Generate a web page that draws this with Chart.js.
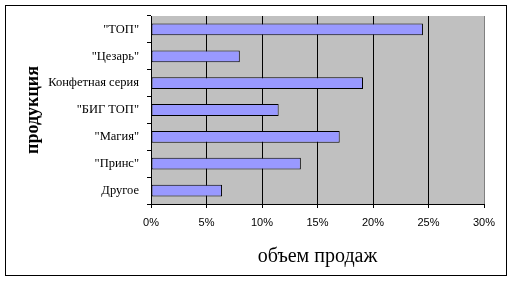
<!DOCTYPE html>
<html>
<head>
<meta charset="utf-8">
<script src="https://cdn.jsdelivr.net/npm/chart.js@4.4.0/dist/chart.umd.min.js"></script>
<style>
  body { margin: 0; background: #fff; }
  canvas { display: block; }
</style>
</head>
<body>
<canvas id="salesChart" width="513" height="282"></canvas>
<script>
const products = ['"ТОП"', '"Цезарь"', 'Конфетная серия', '"БИГ ТОП"', '"Магия"', '"Принс"', 'Другое'];
const salesShare = [24.5, 8, 19.1, 11.5, 17, 13.5, 6.4];
const percentTicks = [0, 5, 10, 15, 20, 25, 30];

// grey plot area + outer frame
const framePlugin = {
    id: 'frame',
    beforeDraw(chart) {
        const { ctx, chartArea } = chart;
        ctx.save();
        ctx.fillStyle = '#c0c0c0';
        ctx.fillRect(chartArea.left, chartArea.top, chartArea.right - chartArea.left, chartArea.bottom - chartArea.top);
        ctx.restore();
    },
    afterDraw(chart) {
        const ctx = chart.ctx;
        ctx.save();
        ctx.strokeStyle = '#000';
        ctx.lineWidth = 1;
        ctx.strokeRect(5.5, 5.5, 501, 270);
        ctx.restore();
    }
};

const ctx = document.getElementById('salesChart').getContext('2d');
new Chart(ctx, {
    type: 'bar',
    data: {
        labels: products,
        datasets: [{
            label: 'объем продаж',
            data: salesShare,
            backgroundColor: '#9999ff',
            borderColor: '#000',
            borderWidth: 1,
            borderSkipped: false,
            barPercentage: 0.44,
            categoryPercentage: 1
        }]
    },
    options: {
        indexAxis: 'y',
        responsive: false,
        animation: false,
        devicePixelRatio: 1,
        layout: {
            padding: { left: 23, top: 16, right: 29, bottom: 0 }
        },
        scales: {
            x: {
                min: 0,
                max: 30,
                afterBuildTicks: (scale) => {
                    scale.ticks = percentTicks.map(v => ({ value: v }));
                },
                afterFit: (scale) => { scale.height = 78; },
                ticks: {
                    color: '#000',
                    padding: 8,
                    maxRotation: 0,
                    font: { family: 'Liberation Sans', size: 11 },
                    callback: (v) => v + '%'
                },
                grid: {
                    color: (c) => (c.tick && c.tick.value === 30) ? '#808080' : '#000',
                    tickColor: '#000',
                    tickLength: 4,
                    lineWidth: 1
                },
                border: { color: '#000' },
                title: {
                    display: true,
                    text: 'объем продаж',
                    color: '#000',
                    padding: { top: 0, bottom: 13 },
                    font: { family: 'Liberation Serif', size: 20 }
                }
            },
            y: {
                afterFit: (scale) => { scale.width = 128; },
                ticks: {
                    color: '#000',
                    padding: 8,
                    font: { family: 'Liberation Serif', size: 12.5 }
                },
                grid: {
                    drawOnChartArea: false,
                    color: '#000',
                    tickLength: 4
                },
                border: { color: '#000' },
                title: {
                    display: true,
                    text: 'продукция',
                    color: '#000',
                    padding: { top: 0, bottom: 0 },
                    font: { family: 'Liberation Serif', size: 18, weight: 'bold' }
                }
            }
        },
        plugins: {
            legend: { display: false },
            tooltip: { enabled: false }
        }
    },
    plugins: [framePlugin]
});
</script>
</body>
</html>
